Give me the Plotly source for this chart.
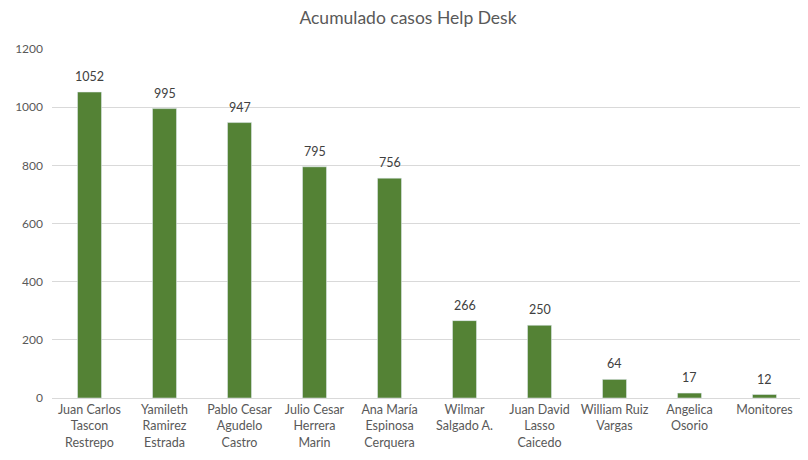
import plotly.graph_objects as go

categories = ["Juan Carlos<br>Tascon<br>Restrepo", "Yamileth<br>Ramirez<br>Estrada",
              "Pablo Cesar<br>Agudelo<br>Castro", "Julio Cesar<br>Herrera<br>Marin",
              "Ana María<br>Espinosa<br>Cerquera", "Wilmar<br>Salgado A.",
              "Juan David<br>Lasso<br>Caicedo", "William Ruiz<br>Vargas",
              "Angelica<br>Osorio", "Monitores"]
values = [1052, 995, 947, 795, 756, 266, 250, 64, 17, 12]
y_ticks = [0, 200, 400, 600, 800, 1000, 1200]

fig = go.Figure(go.Bar(x=categories, y=values, marker_color="#548235"))
for c, v in zip(categories, values):
    fig.add_annotation(x=c, y=v, text=str(v), showarrow=False, yanchor="bottom",
                       yshift=6, font=dict(size=12.5, color="#404040"))
fig.update_layout(
    width=800, height=452,
    margin=dict(l=44, r=6, t=41, b=62, autoexpand=False),
    paper_bgcolor="white", plot_bgcolor="white",
    font=dict(family="Lato, Open Sans, sans-serif", color="#595959", size=12),
    title=dict(text="Acumulado casos Help Desk", x=0.5, xanchor="center",
               y=1 - 4 / 452, yanchor="top", pad=dict(t=0, b=0),
               font=dict(size=17.5, color="#595959")),
    bargap=0.68,
    showlegend=False,
    xaxis=dict(showgrid=False, showline=True, linecolor="#d9d9d9", ticks="",
               automargin=False, tickfont=dict(size=12.5, color="#595959")),
    yaxis=dict(range=[0, 1200], tickvals=y_ticks, showgrid=True, gridcolor="#d9d9d9",
               zeroline=False, showline=False, ticks="", ticklabelstandoff=8,
               automargin=False, tickfont=dict(size=12, color="#595959")),
)
fig.write_html("out.html")
